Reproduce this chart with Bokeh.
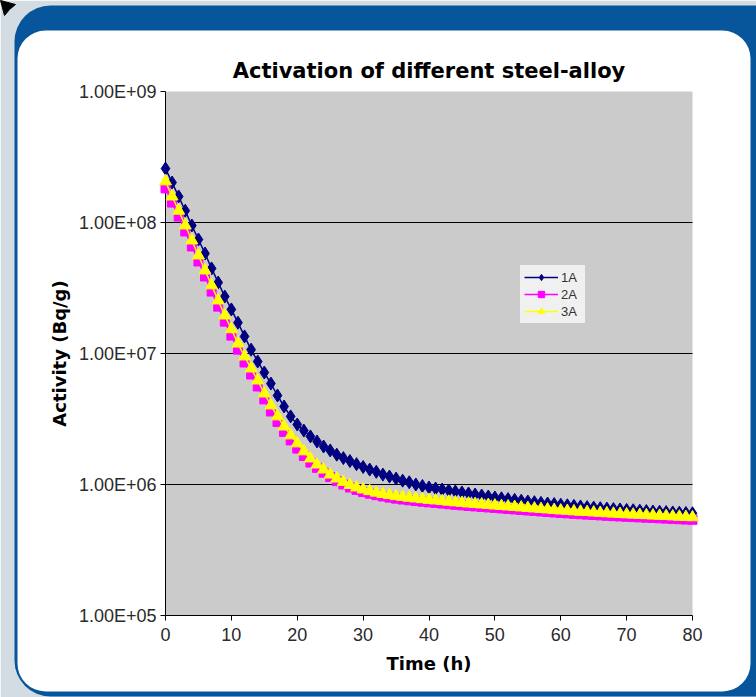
from bokeh.plotting import figure
from bokeh.models import (FixedTicker, Legend, LegendItem, ColumnDataSource,
                          Range1d, LinearScale)
from bokeh.embed import file_html
from bokeh.resources import INLINE

# ---------------- data ----------------
hours = list(range(81))

act_1a = [2.58e8, 2.02e8, 1.58e8, 1.23e8, 9.49e7, 7.42e7, 5.80e7, 4.46e7, 3.48e7, 2.72e7,
          2.17e7, 1.72e7, 1.35e7, 1.07e7, 8.69e6, 7.16e6, 5.90e6, 4.78e6, 3.94e6, 3.31e6,
          2.87e6, 2.58e6, 2.33e6, 2.13e6, 1.95e6, 1.82e6, 1.69e6, 1.59e6, 1.51e6, 1.43e6,
          1.36e6, 1.30e6, 1.25e6, 1.19e6, 1.15e6, 1.11e6, 1.07e6, 1.04e6, 1.00e6, 9.74e5,
          9.49e5, 9.32e5, 9.16e5, 9.00e5, 8.84e5, 8.69e5, 8.54e5, 8.39e5, 8.24e5, 8.10e5,
          7.96e5, 7.85e5, 7.74e5, 7.63e5, 7.52e5, 7.42e5, 7.33e5, 7.24e5, 7.16e5, 7.09e5,
          7.01e5, 6.94e5, 6.87e5, 6.80e5, 6.72e5, 6.66e5, 6.60e5, 6.55e5, 6.49e5, 6.45e5,
          6.40e5, 6.36e5, 6.31e5, 6.27e5, 6.22e5, 6.19e5, 6.16e5, 6.12e5, 6.09e5, 6.06e5,
          6.03e5]

act_2a = [1.82e8, 1.42e8, 1.11e8, 8.54e7, 6.56e7, 5.04e7, 3.87e7, 2.97e7, 2.28e7, 1.75e7,
          1.37e7, 1.07e7, 8.54e6, 6.91e6, 5.60e6, 4.46e6, 3.61e6, 3.00e6, 2.52e6, 2.17e6,
          1.88e6, 1.65e6, 1.47e6, 1.34e6, 1.23e6, 1.14e6, 1.06e6, 1.00e6, 9.49e5, 9.08e5,
          8.76e5, 8.51e5, 8.29e5, 8.10e5, 7.94e5, 7.80e5, 7.68e5, 7.57e5, 7.48e5, 7.39e5,
          7.30e5, 7.23e5, 7.15e5, 7.07e5, 7.00e5, 6.93e5, 6.85e5, 6.80e5, 6.74e5, 6.68e5,
          6.62e5, 6.56e5, 6.50e5, 6.45e5, 6.39e5, 6.33e5, 6.28e5, 6.22e5, 6.17e5, 6.11e5,
          6.06e5, 6.02e5, 5.97e5, 5.93e5, 5.89e5, 5.85e5, 5.81e5, 5.77e5, 5.73e5, 5.70e5,
          5.67e5, 5.64e5, 5.61e5, 5.58e5, 5.55e5, 5.52e5, 5.49e5, 5.46e5, 5.43e5, 5.40e5,
          5.38e5]

act_3a = [2.06e8, 1.58e8, 1.23e8, 9.49e7, 7.29e7, 5.60e7, 4.30e7, 3.31e7, 2.54e7, 1.95e7,
          1.53e7, 1.19e7, 9.49e6, 7.68e6, 6.22e6, 4.95e6, 4.01e6, 3.31e6, 2.77e6, 2.37e6,
          2.06e6, 1.79e6, 1.58e6, 1.42e6, 1.30e6, 1.19e6, 1.11e6, 1.045e6, 9.91e5, 9.49e5,
          9.16e5, 8.89e5, 8.66e5, 8.46e5, 8.30e5, 8.15e5, 8.03e5, 7.91e5, 7.82e5, 7.72e5,
          7.63e5, 7.55e5, 7.47e5, 7.39e5, 7.31e5, 7.24e5, 7.16e5, 7.10e5, 7.04e5, 6.98e5,
          6.91e5, 6.85e5, 6.80e5, 6.74e5, 6.68e5, 6.62e5, 6.56e5, 6.50e5, 6.45e5, 6.39e5,
          6.33e5, 6.29e5, 6.24e5, 6.20e5, 6.16e5, 6.11e5, 6.07e5, 6.03e5, 5.99e5, 5.95e5,
          5.92e5, 5.89e5, 5.86e5, 5.83e5, 5.80e5, 5.77e5, 5.74e5, 5.71e5, 5.68e5, 5.65e5,
          5.62e5]

series_names = ["1A", "2A", "3A"]
x_ticks = [0, 10, 20, 30, 40, 50, 60, 70, 80]
y_ticks = [100000, 1000000, 10000000, 100000000, 1000000000]
y_tick_labels = ["1.00E+05", "1.00E+06", "1.00E+07", "1.00E+08", "1.00E+09"]

# ---------------- figure ----------------
W, H = 756, 697
FL, FR, FT, FB = 165, 692, 91, 615   # frame edges in canvas pixels

p = figure(width=W, height=H, y_axis_type="log",
           x_range=(0, 80), y_range=(1e5, 1e9),
           output_backend="svg", toolbar_location=None,
           title="Activation of different steel-alloy",
           min_border_left=FL, min_border_right=W - FR,
           min_border_top=FT, min_border_bottom=H - FB)

p.border_fill_color = "#d3dbe3"
p.background_fill_color = "#cbcbcb"
p.outline_line_color = "#8c8c8c"

# pixel-space ranges for the decorative page frame (drawn outside the plot frame)
p.extra_x_ranges = {"px": Range1d(FL, FR)}
p.extra_y_ranges = {"px": Range1d(H - FB, H - FT)}
p.extra_x_scales = {"px": LinearScale()}
p.extra_y_scales = {"px": LinearScale()}

deco = dict(x_range_name="px", y_range_name="px", level="guide", line_alpha=0)
p.quad(left=14, right=800, top=H - 5, bottom=H - 696, fill_color="#07569b",
       border_radius=36, **deco)
p.quad(left=17, right=750, top=H - 30, bottom=H - 691, fill_color="#ffffff",
       border_radius=28, **deco)
p.quad(left=FL, right=FR, top=H - FT, bottom=H - FB, fill_color="#cbcbcb", **deco)
p.patch(x=[0, 15, 9, 4], y=[H, H - 4, H - 9, H - 15], fill_color="black",
        x_range_name="px", y_range_name="px", level="guide", line_color="black")

# title
p.title.text_font = "DejaVu Sans"
p.title.text_font_style = "bold"
p.title.text_font_size = "21px"
p.title.text_color = "#000000"
p.title.align = "center"
p.title.standoff = 17

# axes
p.xaxis.ticker = FixedTicker(ticks=x_ticks)
p.yaxis.ticker = FixedTicker(ticks=y_ticks)
p.yaxis.major_label_overrides = dict(zip(y_ticks, y_tick_labels))
for ax in (p.xaxis[0], p.yaxis[0]):
    ax.level = "annotation"
    ax.axis_line_color = "black"
    ax.axis_line_width = 1
    ax.major_tick_line_color = "black"
    ax.major_tick_out = 5
    ax.major_tick_in = 0
    ax.minor_tick_line_color = None
    ax.major_label_text_font = "Liberation Sans"
    ax.major_label_text_font_size = "18px"
    ax.major_label_text_color = "#2a2a2a"
    ax.axis_label_text_font = "DejaVu Sans"
    ax.axis_label_text_font_style = "bold"
    ax.axis_label_text_font_size = "18px"
    ax.axis_label_text_color = "#000000"
p.xaxis.axis_label = "Time (h)"
p.yaxis.axis_label = "Activity (Bq/g)"
p.xaxis.major_label_standoff = 7
p.yaxis.major_label_standoff = 4
p.xaxis.axis_label_standoff = 9
p.yaxis.axis_label_standoff = 6

p.xgrid.grid_line_color = None
p.ygrid.grid_line_color = "black"
p.ygrid.grid_line_width = 1
p.xgrid.level = "annotation"
p.ygrid.level = "annotation"

# series
src = ColumnDataSource(dict(h=hours, a1=act_1a, a2=act_2a, a3=act_3a))

l1 = p.line("h", "a1", source=src, line_color="#000080", line_width=1.5, level="overlay")
m1 = p.scatter("h", "a1", source=src, marker="diamond", size=13,
               fill_color="#000080", line_color="#000080", level="overlay")
l2 = p.line("h", "a2", source=src, line_color="#ff00ff", line_width=1.5, level="overlay")
m2 = p.scatter("h", "a2", source=src, marker="square", size=9,
               fill_color="#ff00ff", line_color="#ff00ff", level="overlay")
l3 = p.line("h", "a3", source=src, line_color="#ffff00", line_width=1.5, level="overlay")
m3 = p.scatter("h", "a3", source=src, marker="triangle", size=12,
               fill_color="#ffff00", line_color="#ffff00", level="overlay")

legend = Legend(items=[LegendItem(label=series_names[0], renderers=[l1, m1]),
                       LegendItem(label=series_names[1], renderers=[l2, m2]),
                       LegendItem(label=series_names[2], renderers=[l3, m3])],
                location=(355, 292))
legend.background_fill_color = "#f4f4f4"
legend.background_fill_alpha = 0.9
legend.border_line_alpha = 0
legend.label_text_font = "Liberation Sans"
legend.label_text_font_size = "13px"
legend.label_text_color = "#333333"
legend.glyph_width = 34
legend.glyph_height = 16
legend.label_height = 16
legend.spacing = 1
legend.padding = 4
legend.margin = 0
legend.label_standoff = 3
p.add_layout(legend, "center")

open("out.html", "w").write(file_html(p, INLINE))
